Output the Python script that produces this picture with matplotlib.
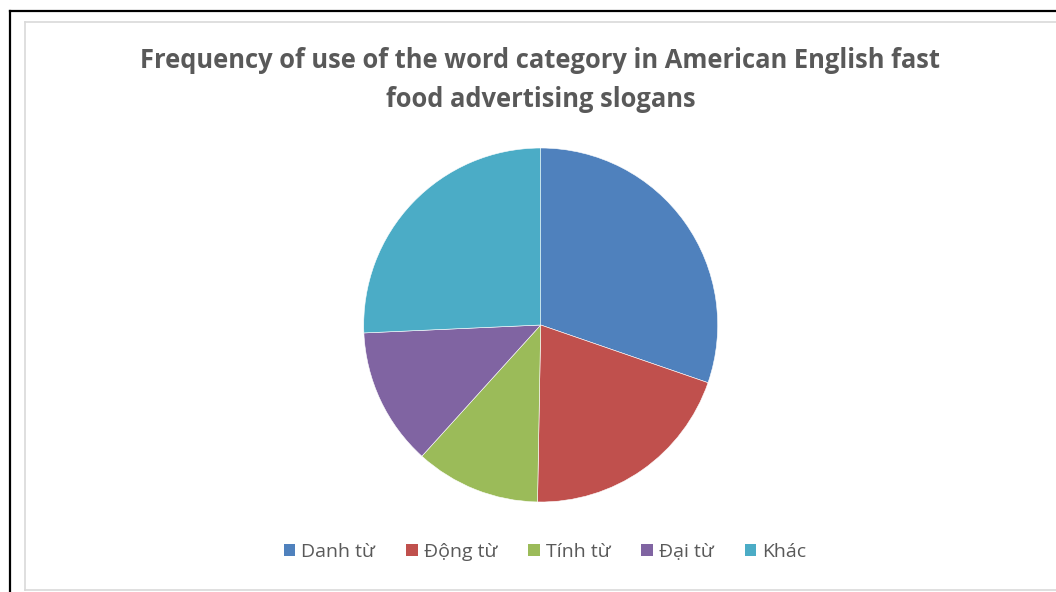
import matplotlib.pyplot as plt
from matplotlib.lines import Line2D
from matplotlib.patches import Patch

# Word categories and their counts
categories = ["Danh từ", "Động từ", "Tính từ", "Đại từ", "Khác"]
counts = [53, 35, 20, 22, 45]
colors = ["#4F81BD", "#C0504D", "#9BBB59", "#8064A2", "#4BACC6"]

title = "Frequency of use of the word category in American English fast\nfood advertising slogans"

W, H = 1056, 592
fig = plt.figure(figsize=(W / 100, H / 100), dpi=100)
fig.patch.set_facecolor("white")

# Pie axes: centre (541, 325) px, radius 177 px
cx, cy, r = 540.7, 325, 177
ax = fig.add_axes([(cx - r) / W, (H - cy - r) / H, 2 * r / W, 2 * r / H])
ax.pie(counts, colors=colors, startangle=90, counterclock=False, radius=1,
       wedgeprops=dict(edgecolor="white", linewidth=0.4))
ax.set_xlim(-1, 1)
ax.set_ylim(-1, 1)
ax.set_aspect("equal")
ax.axis("off")

# Title
fig.text(540.5 / W, 1 - 80 / H, title, ha="center", va="center", fontsize=18.4,
         fontweight="bold", color="#595959", family="Open Sans", linespacing=1.55)

# Legend
handles = [Patch(facecolor=c, edgecolor="none") for c in colors]
fig.legend(handles, categories, loc="center", bbox_to_anchor=(545 / W, 1 - 552 / H), ncol=5,
           frameon=False, handlelength=0.6, handleheight=0.6, handletextpad=0.3,
           columnspacing=1.6, prop={"family": "Open Sans", "size": 14}, labelcolor="#595959")

# Outer black frame and inner grey chart border (run off the right/bottom edge)
def fx(px):
    return px / W

def fy(py):
    return 1 - py / H

fig.add_artist(Line2D([fx(9.5), fx(9.5)], [fy(10.5), fy(600)], color="black", lw=1.6))
fig.add_artist(Line2D([fx(9.5), fx(1100)], [fy(10.5), fy(10.5)], color="black", lw=1.6))
grey = "#D9D9D9"
fig.add_artist(Line2D([fx(24.5), fx(24.5)], [fy(21.5), fy(589.5)], color=grey, lw=1.2))
fig.add_artist(Line2D([fx(24.5), fx(1100)], [fy(21.5), fy(21.5)], color=grey, lw=1.2))
fig.add_artist(Line2D([fx(24.5), fx(1100)], [fy(589.5), fy(589.5)], color=grey, lw=1.2))

fig.savefig("out.png", dpi=100)
